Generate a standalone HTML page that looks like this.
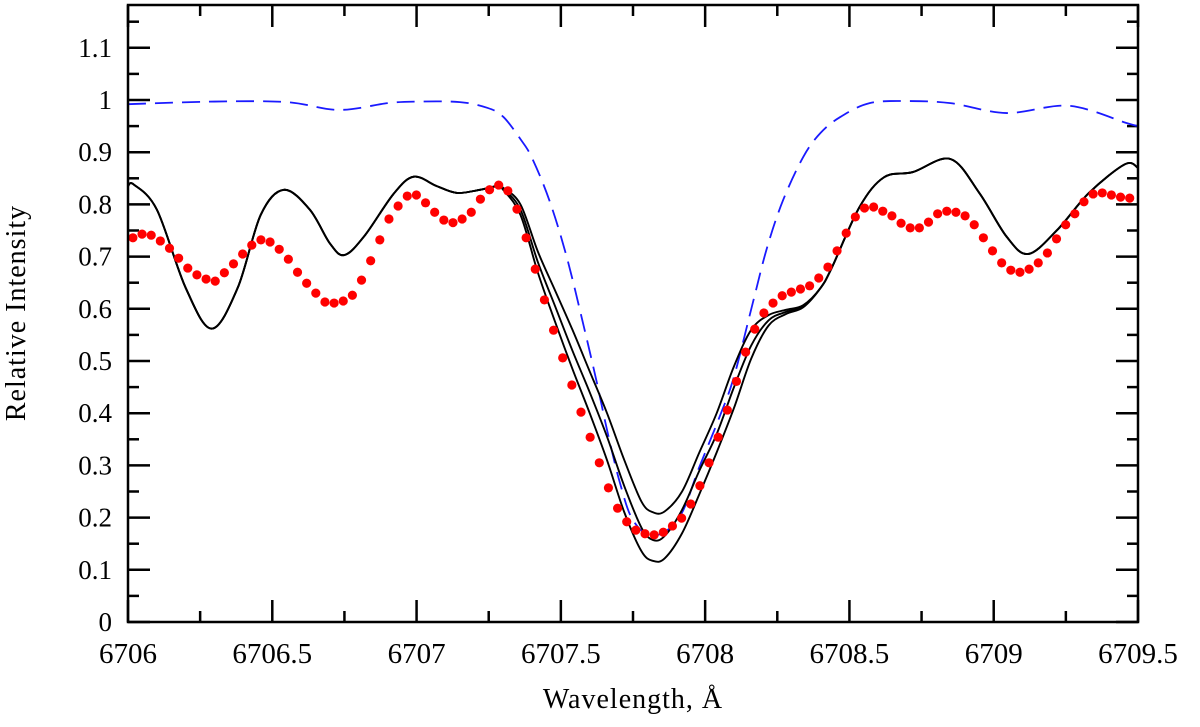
<!DOCTYPE html>
<html><head><meta charset="utf-8"><style>
html,body{margin:0;padding:0;background:#fff;}
svg{display:block;font-family:"Liberation Serif","DejaVu Serif",serif;}
</style></head><body>
<svg id="chart" width="1200" height="727" viewBox="0 0 1200 727" xmlns="http://www.w3.org/2000/svg">
<g id="ticks"></g>
<g id="series"></g>
<rect x="128" y="5" width="1010" height="617" fill="none" stroke="#000" stroke-width="2.5"/>
<g id="labels" font-size="27" fill="#000"></g>
<text x="633" y="708" font-size="28" text-anchor="middle" letter-spacing="1">Wavelength, Å</text>
<text transform="translate(25,313) rotate(-90)" font-size="28" text-anchor="middle" letter-spacing="1">Relative Intensity</text>
</svg>
<script>
// ---- data ----
const xTicks = [6706, 6706.5, 6707, 6707.5, 6708, 6708.5, 6709, 6709.5];
const xTickLabels = ["6706", "6706.5", "6707", "6707.5", "6708", "6708.5", "6709", "6709.5"];
const yTicks = [0, 0.1, 0.2, 0.3, 0.4, 0.5, 0.6, 0.7, 0.8, 0.9, 1, 1.1];
const yTickLabels = ["0", "0.1", "0.2", "0.3", "0.4", "0.5", "0.6", "0.7", "0.8", "0.9", "1", "1.1"];

// observed spectrum (red dots)
const obsStart = 6706.017;
const obsStep = 0.03169;
const obsValues = [0.736,0.743,0.741,0.730,0.716,0.697,0.678,0.665,0.657,0.653,0.669,0.686,0.705,0.722,0.732,0.728,0.714,0.695,0.670,0.649,0.630,0.613,0.611,0.615,0.626,0.655,0.692,0.732,0.772,0.797,0.816,0.818,0.803,0.785,0.770,0.765,0.772,0.785,0.810,
0.828,0.837,0.826,0.791,0.736,0.676,0.617,0.559,0.506,0.454,0.402,0.354,0.305,0.257,0.218,0.192,0.176,0.169,0.167,0.172,0.184,0.199,0.226,0.261,0.305,0.354,0.406,0.461,0.517,0.561,0.592,0.611,0.625,0.632,0.638,0.644,0.659,0.680,0.711,0.745,0.776,0.793,0.795,0.787,0.778,
0.764,0.755,0.755,0.766,0.782,0.787,0.785,0.778,0.761,0.736,0.711,0.688,0.674,0.670,0.676,0.688,0.707,0.734,0.761,0.782,0.805,0.820,0.822,0.818,0.814,0.812];

// synthetic models (black): shared wings + three cores
const wingLeftLam = [6706.0,6706.02,6706.1,6706.2,6706.29,6706.38,6706.46,6706.54,6706.63,6706.7,6706.75,6706.82,6706.92,6706.99,6707.07,6707.14,6707.22,6707.28];
const wingLeftVal = [0.835,0.838,0.79,0.64,0.562,0.64,0.78,0.828,0.79,0.725,0.703,0.74,0.82,0.853,0.835,0.822,0.828,0.835];
const coreLam = [6707.30,6707.36,6707.42,6707.48,6707.54,6707.60,6707.66,6707.72,6707.78,6707.82,6707.86,6707.92,6707.98,6708.04,6708.10,6708.16,6708.22,6708.28,6708.34,6708.40];
const coreMid = [0.83,0.79,0.69,0.605,0.52,0.44,0.355,0.26,0.18,0.157,0.165,0.215,0.29,0.36,0.45,0.53,0.578,0.594,0.605,0.64];
const coreLow = [0.828,0.78,0.67,0.575,0.485,0.40,0.31,0.21,0.135,0.117,0.122,0.17,0.245,0.325,0.41,0.505,0.568,0.59,0.603,0.64];
const coreHigh = [0.832,0.80,0.71,0.635,0.56,0.48,0.40,0.31,0.23,0.21,0.212,0.25,0.325,0.40,0.49,0.56,0.588,0.598,0.607,0.64];
const wingRightLam = [6708.44,6708.535,6708.62,6708.72,6708.85,6708.95,6709.045,6709.12,6709.22,6709.33,6709.455,6709.5];
const wingRightVal = [0.68,0.795,0.852,0.862,0.887,0.822,0.738,0.705,0.751,0.822,0.877,0.870];

// blue dashed model
const blueLam = [6706.0,6706.3,6706.55,6706.73,6706.9,6707.0,6707.15,6707.245,6707.30,6707.36,6707.40,6707.46,6707.52,6707.58,6707.625,6707.66,6707.705,6707.75,6707.82,6707.91,6707.98,6708.05,6708.10,6708.165,6708.215,6708.27,6708.34,6708.40,6708.47,6708.57,6708.7,6708.85,6709.045,6709.26,6709.46,6709.5];
const blueVal = [0.992,0.997,0.996,0.981,0.994,0.997,0.996,0.985,0.968,0.925,0.889,0.808,0.70,0.565,0.458,0.368,0.266,0.195,0.165,0.20,0.297,0.393,0.47,0.611,0.718,0.808,0.891,0.937,0.968,0.994,0.998,0.994,0.975,0.989,0.956,0.95];

// ---- axes ----
const X0=128, X1=1138, Y0=622, PXY=522;
const xs = l => X0 + (l-6706)/3.5*(X1-X0);
const ys = v => Y0 - v*PXY;
const NS="http://www.w3.org/2000/svg";
function mk(tag, attrs, parent){const e=document.createElementNS(NS,tag);for(const k in attrs)e.setAttribute(k,attrs[k]);parent.appendChild(e);return e;}
const tg=document.getElementById('ticks'), lg=document.getElementById('labels'), sg=document.getElementById('series');

for(let l=6706;l<=6709.5001;l+=0.25){
  const major=Math.abs(l*2-Math.round(l*2))<1e-6, len=major?22:11, x=xs(l);
  const t1=mk('line',{x1:x,x2:x,y1:Y0,y2:Y0-len,stroke:'#000','stroke-width':2.5},tg);
  
  
  const t2=mk('line',{x1:x,x2:x,y1:5,y2:5+len,stroke:'#000','stroke-width':2.5},tg);
  
  
}
for(let v=0;v<=1.15001;v+=0.05){
  const major=Math.abs(v*10-Math.round(v*10))<1e-6, len=major?22:11, y=ys(v);
  const t1=mk('line',{x1:X0,x2:X0+len,y1:y,y2:y,stroke:'#000','stroke-width':2.5},tg);
  
  
  const t2=mk('line',{x1:X1,x2:X1-len,y1:y,y2:y,stroke:'#000','stroke-width':2.5},tg);
  
  
}
xTicks.forEach((l,i)=>{
  const t=mk('text',{x:xs(l),y:663,'text-anchor':'middle','font-size':29},lg);
  t.textContent=xTickLabels[i];
  
  
});
yTicks.forEach((v,i)=>{
  const t=mk('text',{x:112,y:ys(v)+9,'text-anchor':'end','font-size':27},lg);
  t.textContent=yTickLabels[i];
  
  
});

function smooth(lams, vals){
  const p=lams.map((l,i)=>[xs(l),ys(vals[i])]);
  let d=`M${p[0][0]},${p[0][1]}`;
  for(let i=0;i<p.length-1;i++){
    const a=p[Math.max(0,i-1)],b=p[i],c=p[i+1],e=p[Math.min(p.length-1,i+2)];
    d+=` C${b[0]+(c[0]-a[0])/6},${b[1]+(c[1]-a[1])/6} ${c[0]-(e[0]-b[0])/6},${c[1]-(e[1]-b[1])/6} ${c[0]},${c[1]}`;
  }
  return d;
}
const blue=mk('path',{d:smooth(blueLam,blueVal),fill:'none',stroke:'#1a1aff','stroke-width':1.8,'stroke-dasharray':'18 9'},sg);



const allLam=wingLeftLam.concat(coreLam,wingRightLam);
[coreLow,coreMid,coreHigh].forEach((core,k)=>{
  const vals=wingLeftVal.concat(core,wingRightVal);
  const pth=mk('path',{d:smooth(allLam,vals),fill:'none',stroke:'#000','stroke-width':1.9},sg);
  
  
});

obsValues.forEach((v,i)=>{
  const c=mk('circle',{cx:xs(obsStart+i*obsStep),cy:ys(v),r:4.6,fill:'#ff0000'},sg);
  
  
});
</script>
</body></html>
